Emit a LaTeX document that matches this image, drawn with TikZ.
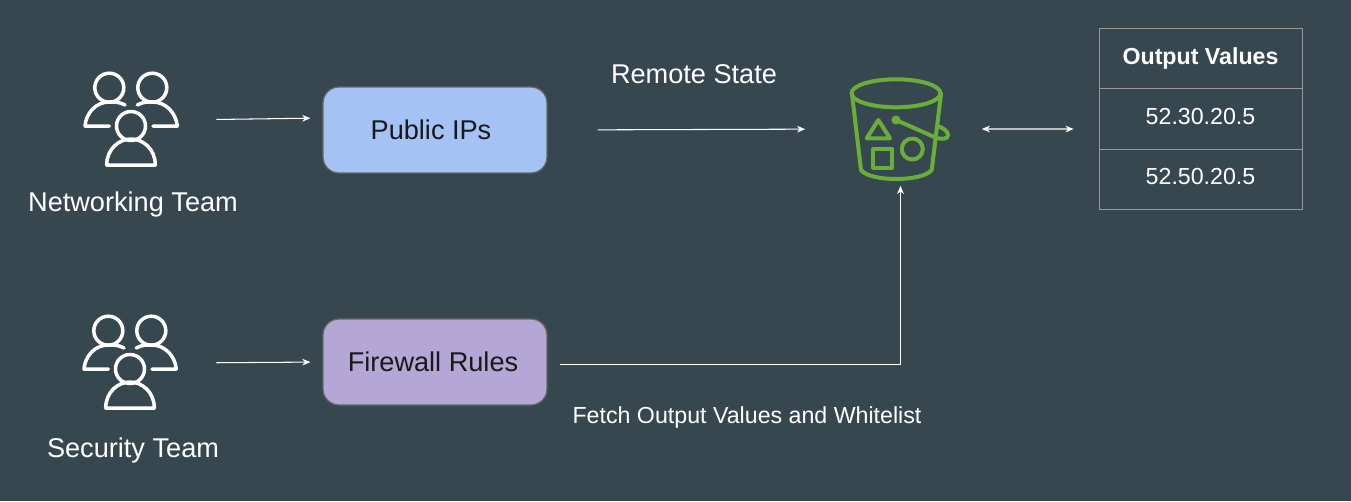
\documentclass[tikz,border=0pt]{standalone}
\usepackage{fontspec}
\setmainfont{Liberation Sans}
\usepackage{tikz}
\usetikzlibrary{arrows.meta}
\definecolor{slate}{HTML}{37474F}
\definecolor{bucketgreen}{HTML}{6AAE3A}
\definecolor{ipblue}{HTML}{A4C2F4}
\definecolor{rulepurple}{HTML}{B4A7D6}
\tikzstyle{iconbox}=[inner sep=0pt, minimum width=1.88cm, minimum height=1.88cm]
\tikzstyle{box}=[draw=black!60, line width=0.7pt, rounded corners=0.32cm, minimum width=4.48cm, minimum height=1.72cm, inner sep=0pt, text=black!90, font=\fontsize{15.45}{18}\selectfont]
\tikzstyle{cell}=[draw=white!60!black, line width=0.5pt, minimum width=4.06cm, minimum height=1.21cm, inner sep=0pt, text=white, font=\fontsize{13.2}{16}\selectfont]
\tikzstyle{label}=[text=white, inner sep=0pt, font=\fontsize{15.45}{18}\selectfont]
\tikzstyle{flow}=[draw=white, line width=0.6pt, -{Stealth[length=4.6pt,width=3.8pt,inset=1.4pt]}]
\tikzset{
  team/.pic={
    \begin{scope}[draw=white, line width=0.07cm, line join=round, line cap=round]
      \draw (-21.7,-38.3) circle [radius=0.29cm];
      \draw (21.3,-38.3) circle [radius=0.29cm];
      \draw (0,0) circle [radius=0.29cm];
      \draw (-6,-21) .. controls (-13,-24.5) and (-17,-24) .. (-21.7,-24) .. controls (-35,-24) and (-45,-13) .. (-46,0) -- (-21.7,0);
      \draw (6.3,-21) .. controls (13,-24.5) and (17,-24) .. (21.7,-24) .. controls (35,-24) and (45,-13) .. (46.3,0) -- (22,0);
      \draw (-24.3,39) .. controls (-24.3,23) and (-12,13) .. (0,13) .. controls (12,13) and (24.3,23) .. (24.3,39) -- cycle;
    \end{scope}
  },
  s3bucket/.pic={
    \begin{scope}[draw=bucketgreen, line width=0.08cm, line join=round, line cap=round]
      \draw (-4,-35.7) ellipse [x radius=0.89cm, y radius=0.28cm];
      \draw (-48,-35) -- (-39,41) .. controls (-30,53) and (22,53) .. (31.7,41) -- (41,-35);
      \draw (-21.7,-9) -- (-33.3,9.3) -- (-10,9.3) -- cycle;
      \draw (-26.7,20) rectangle (-7.7,38.7);
      \draw (12.3,20) circle [radius=0.21cm];
      \fill[bucketgreen] (-4,-9) circle [radius=0.09cm];
      \draw (-4,-9) -- (35,8.3) .. controls (42,11) and (48,10) .. (48,6) .. controls (48,2) and (42,-2) .. (37,-3);
    \end{scope}
  }
}

\begin{document}
\begin{tikzpicture}[x=0.02cm, y=-0.02cm]
    \fill[slate] (0,0) rectangle (1351,501);
    \useasboundingbox (0,0) rectangle (1351,501);

    % Teams, boxes and the bucket
    \node[iconbox] (netteam) at (131,120) {};
    \pic at (131,126) {team};
    \node[iconbox] (secteam) at (130,363) {};
    \pic at (130,369) {team};

    \node[box, fill=ipblue] (publicips) at (435,130) {Public IPs\kern0.16cm};
    \node[box, fill=rulepurple] (firewall) at (435,362) {Firewall Rules\kern0.08cm};

    \node[inner sep=0pt, minimum width=1.96cm, minimum height=2.06cm] (bucket) at (900.5,129) {};
    \pic at (900,129) {s3bucket};

    % Output table
    \node[cell, font=\fontsize{13.2}{16}\selectfont\bfseries] (header) at (1200.5,58.5) {Output Values};
    \foreach \pos/\name/\addr in {
                            {(1200.5,119)/first/52.30.20.5},
                            {(1200.5,179.5)/second/52.50.20.5}}
        \node[cell, text depth=0.12cm] (\name) at \pos {\addr};

    % Texts
    \node[label] (netname) at (133,204) {Networking Team};
    \node[label] (secname) at (133,450) {Security Team};
    \node[label] (remote) at (694,74) {Remote State};
    \node[label, font=\fontsize{13.2}{16}\selectfont] (fetch) at (747,417) {Fetch Output Values and Whitelist};

    % Connect everything, leaving the gaps
    \draw[flow, shorten <=0.76cm, shorten >=0.24cm] (netteam.east) -- ([yshift=0.24cm]publicips.west);
    \draw[flow, shorten <=0.78cm, shorten >=0.24cm] (secteam.east) -- (firewall.west);
    \draw[flow, shorten <=1cm, shorten >=0.92cm] (publicips.east) -- (bucket.west);
    \draw[flow, {Stealth[length=4.6pt,width=3.8pt,inset=1.4pt]}-{Stealth[length=4.6pt,width=3.8pt,inset=1.4pt]}, shorten <=0.64cm, shorten >=0.5cm] (bucket.east) -- ([yshift=-0.2cm]first.west);
    \draw[flow, shorten <=0.24cm, shorten >=0.1cm] ([yshift=-0.05cm]firewall.east) -| (bucket.south);
\end{tikzpicture}
\end{document}
